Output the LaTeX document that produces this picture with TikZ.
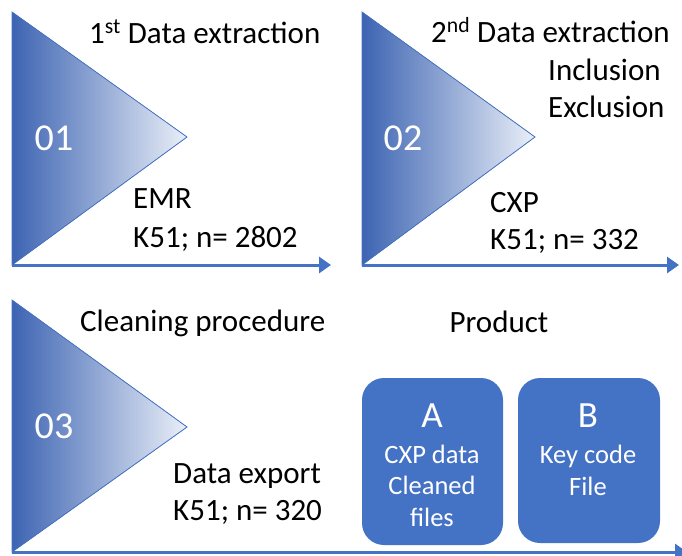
\documentclass[tikz,border=0pt]{standalone}
\usepackage{fontspec}
\setmainfont{Carlito}
\usetikzlibrary{arrows.meta}
\definecolor{oblue}{HTML}{4472C4}
\definecolor{dblue}{HTML}{3D64B2}
\definecolor{tipcol}{HTML}{EAEFF8}
\begin{document}
\begin{tikzpicture}[x=1pt,y=-1pt,
  lbl/.style={font=\fontsize{31}{37}\selectfont, inner sep=0, anchor=base west},
  clbl/.style={font=\fontsize{31}{37}\selectfont, inner sep=0, anchor=base},
  wlbl/.style={font=\fontsize{26.5}{32}\selectfont, inner sep=0, anchor=base, text=white},
  num/.style={font=\fontsize{38}{44}\selectfont, text=white, inner sep=0, anchor=base},
  big/.style={font=\fontsize{37}{44}\selectfont, text=white, inner sep=0, anchor=base},
  tri/.style={draw=oblue, line width=0.8pt, left color=dblue, right color=tipcol},
  axisarrow/.style={draw=oblue, line width=3pt, -{Triangle[length=12pt,width=16pt]}},
  prodbox/.style={fill=oblue, rounded corners=22pt, inner sep=0}]
\useasboundingbox (0,0) rectangle (682,555);

% panel 1
\coordinate (p1a) at (12,12);
\coordinate (p1b) at (187,137);
\coordinate (p1c) at (12,265);
\coordinate (p1e) at (331,265);
\fill[tri] (p1a) -- (p1b) -- (p1c) -- cycle;
\draw[axisarrow] (p1c) -- (p1e);
\node[num] (n1) at (54,150) {01};
\node[lbl] (t1) at (89,43) {1\textsuperscript{st} Data extraction};
\node[lbl] (e1) at (133,208) {EMR};
\node[lbl] (k1) at (133,247) {K51; n= 2802};

% panel 2
\coordinate (p2a) at (362,12);
\coordinate (p2b) at (535,137);
\coordinate (p2c) at (362,265);
\coordinate (p2e) at (679,265);
\fill[tri] (p2a) -- (p2b) -- (p2c) -- cycle;
\draw[axisarrow] (p2c) -- (p2e);
\node[num] (n2) at (403,150) {02};
\node[lbl] (t2) at (431,42) {2\textsuperscript{nd} Data extraction};
\node[lbl] (i2) at (548,80) {Inclusion};
\node[lbl] (x2) at (548,117) {Exclusion};
\node[lbl] (c2) at (490,212) {CXP};
\node[lbl] (k2) at (490,249) {K51; n= 332};

% panel 3
\coordinate (p3a) at (12,300);
\coordinate (p3b) at (187,427);
\coordinate (p3c) at (12,552);
\coordinate (p3e) at (687,552);
\fill[tri] (p3a) -- (p3b) -- (p3c) -- cycle;
\draw[axisarrow] (p3c) -- (p3e);
\node[num] (n3) at (54,438) {03};
\node[lbl] (t3) at (80,331) {Cleaning procedure};
\node[lbl] (d3) at (173,483) {Data export};
\node[lbl] (k3) at (173,520) {K51; n= 320};

% product
\node[clbl] (prod) at (499,332) {Product};
\node[prodbox, minimum width=141pt, minimum height=167pt] (boxA) at (432.5,461.5) {};
\node[prodbox, minimum width=142pt, minimum height=165pt] (boxB) at (589,460.5) {};
\node[big] (la) at (432,427) {A};
\node[wlbl] (a1) at (432,463) {CXP data};
\node[wlbl] (a2) at (432,494) {Cleaned};
\node[wlbl] (a3) at (432,526) {files};
\node[big] (lb) at (588,427) {B};
\node[wlbl] (b1) at (588,463) {Key code};
\node[wlbl] (b2) at (588,495) {File};
\end{tikzpicture}
\end{document}
